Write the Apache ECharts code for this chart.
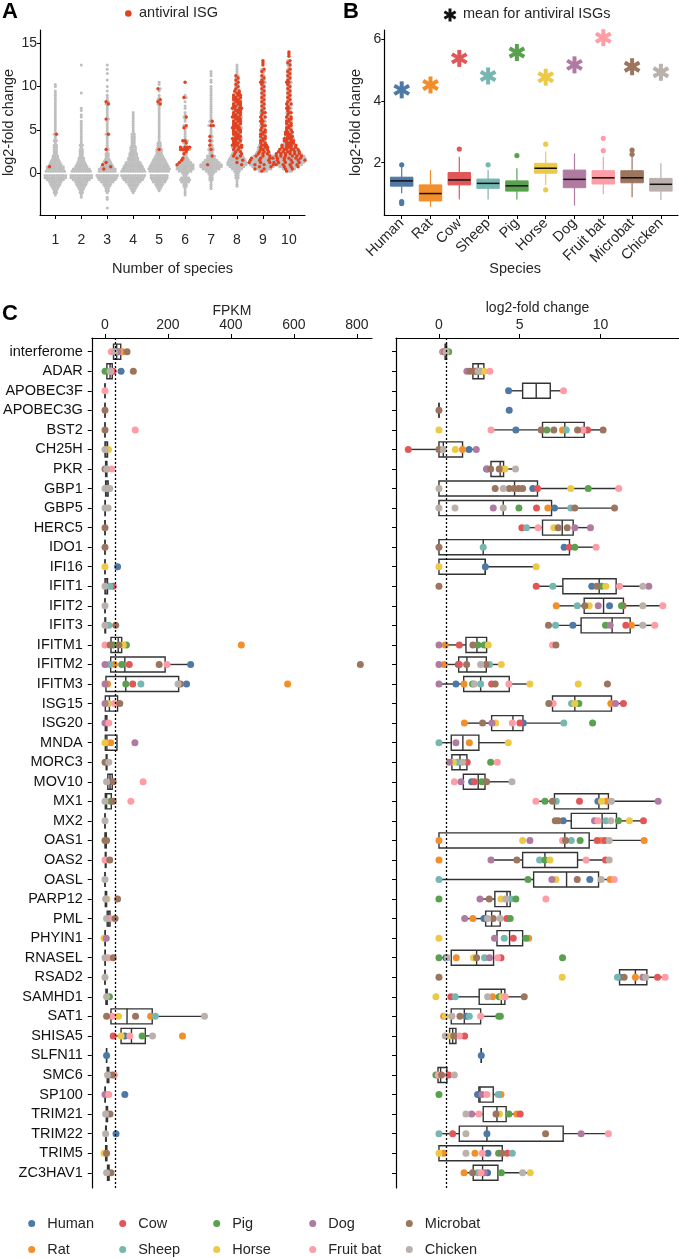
<!DOCTYPE html>
<html><head><meta charset="utf-8">
<script src="https://cdn.jsdelivr.net/npm/echarts@6/dist/echarts.min.js"></script>
<style>html,body{margin:0;padding:0;background:#fff}#c{width:679px;height:1258px}</style>
</head><body><div id="c"></div>
<script>
// ---------------- shared ----------------
const speciesNames = ['Human','Rat','Cow','Sheep','Pig','Horse','Dog','Fruit bat','Microbat','Chicken'];
const speciesColors = ['#4E79A7','#F28E2B','#E15759','#76B7B2','#59A14F','#EDC948','#B07AA1','#FF9DA7','#9C755F','#BAB0AC'];

// ---------------- panel A: dot counts per 0.25 log2FC row ----------------
const speciesCountTicks = [1,2,3,4,5,6,7,8,9,10];
const grayStart = [-2.5, -2.75, -4.0, -2.25, -2.0, -2.5, -1.75, -1.5, 0.25, 0.25];
const grayCounts = [
 [1,2,2,3,4,5,6,8,10,10, 0, 9,8,7,6,5,4,3,3,2,2,2,2,2,1,2,1, 1,1,1,1,1,1,1,1,1,1,1,1,1,1,1,1,1,1,1,1,1,1, 0,1,1],
 [1,1,2,2,3,4,5,6,8,10,10, 0, 9,8,6,5,4,3,3,2,2,2,2,1,2,1,1, 1,1,1,1,1,1,1,1,1,0,1,1,0,1,1,0, 0,0,0,0,0,1, 0,0,0,0,0,0,0,0,0,0,0,0, 1],
 [1,0,0,0,1,1,0,1,2,2,3,4,6,8,9,10, 0, 8,7,5,4,3,3,2,2,2,1,1,1, 1,1,1,1,1,1,1,1,1,1,1,1,1,1,1,1,1,1,1,1,1,1,1,1, 0,1,0,1,0,0,1,0,0,1,0,1,0,1],
 [1,2,3,4,5,7,9,10,11, 0, 11,10,9,8,7,5,5,4,4,3,3,3,2,2,2,2,2,2, 1,1,1,1,1,1,1,1,1,1],
 [1,2,3,4,6,7,8,8, 0, 9,10,9,8,7,6,5,4,3,3,2,2,2,2,1, 1,1,1,1,1,1,1,1,1,1,1,1,1,1,1,1,1,1,1,1,1,0,1,1,0,1,1],
 [1,1,1,1,2,2,4,5,4,2, 3,6,8,8,7,5,3,2,2,1,1, 1,1,1,1,1,1,1,1,1,1,1,1,0,1,1,1,1,1,0,1,1,0,1,0,1,1],
 [1,1,1,1,2,2,2,3, 5,8,10,9,8,6,4,3,2,2,2,2, 1,1,1,1,1,1,1,1,1,1,1,1,1,1,1,1,1,1,1,1,1,1,1,1,1,1,1,1,0,1,1,0,1,1,1],
 [1,1,1,1,2,2,2, 3,5,7,8,8,7,6,4,3,2,2,2, 1,1,1,1,1,1,1,1,1,1,1,1,1,1,1,1,1,1,1,1,1,1,1,1,1,1,1,1,1,1,1,1,1,1,1,1,1,1],
 [3,6,8,9,10,9,8,6,4,3,2,2, 1,1,1,1,1,1,1,1,1,1,1,1,1,1,1,1,1,1,1,1,1,1,1,1,1,1,1,1,1,1,1,1,1,1,1,1],
 [2,4,6,8,9,10,9,8,6,4,3,2,2, 1,1,1,1,1,1,1,1,1,1,1,1,1,1,1,1,1,1,1,1,1,1,1,1,1,1,1,1,1,1,1,1,1,1,1,1,1,1,1]
];
const antiviralSparse = [
 [4.4, 0.7], [], [8.2, 7.9, 6.3, 4.4, 2.8, 1.25, 0.9, 0.75, 0.6], [], [9.8, 8.5, 8.2, 7.9, 2.8],
 [10.5, 8.8, 6.5, 5.5, 5.2, 3.8, 3.7, 3.5, 3.0, 3.0, 3.0, 3.0, 2.7, 2.7, 2.7, 2.7, 2.5, 2.2, 1.8, 1.5, 1.3, 0.9],
 [6.1, 5.6, 5.4, 4.2, 3.7, 3.2, 2.7, 1.9, 1.1], [], [], []
];
const antiviralStart = [null, null, null, null, null, null, null, 1.0, 0.25, 0.25];
const antiviralCounts = [null, null, null, null, null, null, null,
 [1,1,1,1,2,2,2,2, 3,4,3,3,4,3,3,3,3,4,3,3,3,3,4,3,3,3,4,3,3,3,3,3, 3,2,2,1,1,1,1,1,1,1],
 [1,2,2,3,3,3,3,3,3,3,3,3,3, 2,2,2,2,2,2,2, 1,2,1,2,1,2,1,2, 1,1,1,1,1,1,1,1,1,1,1,1,1, 2,1,1,1,0,1,1,0,1,1,1],
 [1,2,3,4,5,5,6,6,6,6,6,5,5, 4,4,4,3,3,3,2, 2,2,2,2,2,2,1,2, 1,2,1,2,1,1,1,1,1,1,1,1,1, 2,1,1,1,1,1,1,0,1,1,1,0,1,1,1]
];

// ---------------- panel B ----------------
const bLow  = [1.01, 0.57, 0.81, 0.81, 0.81, 1.28, 0.61, 0.98, 0.88, 0.79];
const bQ1   = [1.24, 0.76, 1.28, 1.17, 1.08, 1.66, 1.19, 1.31, 1.35, 1.08];
const bMed  = [1.41, 1.00, 1.44, 1.33, 1.25, 1.82, 1.46, 1.51, 1.51, 1.30];
const bQ3   = [1.53, 1.28, 1.68, 1.47, 1.41, 1.98, 1.76, 1.74, 1.74, 1.49];
const bHigh = [1.86, 1.76, 2.19, 1.76, 1.82, 2.36, 2.30, 2.19, 2.20, 1.98];
const bOutliers = [[0,1.93],[0,0.74],[0,0.68],[2,2.44],[3,1.93],[4,2.23],[5,2.6],[5,1.12],[7,2.79],[7,2.39],[8,2.41],[8,2.27]];
const bMeans = [4.36, 4.52, 5.38, 4.81, 5.57, 4.77, 5.17, 6.05, 5.11, 4.93];

// ---------------- panel C ----------------
const genes = ['interferome','ADAR','APOBEC3F','APOBEC3G','BST2','CH25H','PKR','GBP1','GBP5','HERC5','IDO1','IFI16','IFIT1','IFIT2','IFIT3','IFITM1','IFITM2','IFITM3','ISG15','ISG20','MNDA','MORC3','MOV10','MX1','MX2','OAS1','OAS2','OASL','PARP12','PML','PHYIN1','RNASEL','RSAD2','SAMHD1','SAT1','SHISA5','SLFN11','SMC6','SP100','TRIM21','TRIM22','TRIM5','ZC3HAV1'];
const fpkmTicks = [0,200,400,600,800];
const fcTicks = [0,5,10];
const fpkmRef = 34;
const fcRef = 0.42;
// [species index, value]
const fpkmPoints = [
 [[7,20],[9,30],[2,30],[3,35],[0,38],[4,40],[6,42],[5,45],[1,55],[8,70]],
 [[4,0],[9,16],[7,18],[2,26],[0,51],[8,90]],
 [[7,0]], [[8,0]], [[8,0],[7,96]], [[9,0],[5,11]], [[8,0],[9,5],[7,21]],
 [[9,0],[9,8],[9,15]], [[9,0],[9,10]], [[8,0]], [[8,0]], [[5,0],[0,40]],
 [[9,0],[3,16],[2,26]], [[9,0]], [[9,0],[3,12],[8,34]],
 [[7,0],[8,16],[4,26],[8,44],[5,58],[4,68],[1,433]],
 [[6,0],[3,14],[1,30],[4,53],[2,77],[8,172],[7,197],[0,272],[8,811]],
 [[6,0],[1,8],[4,66],[2,88],[3,114],[9,232],[8,240],[0,259],[1,580]],
 [[6,0],[5,8],[3,10],[7,30],[8,47]], [[6,0],[7,12]], [[5,0],[1,18],[6,95]],
 [[8,0],[9,12]], [[9,5],[8,26],[7,121]], [[9,0],[4,18],[8,26],[7,82]], [[9,0]],
 [[8,0],[8,5]], [[7,0],[8,15]], [[9,0]], [[9,2],[5,6],[8,40]], [[9,5],[7,16],[8,32]],
 [[5,-3],[6,4]], [[9,0],[7,10],[8,26]], [[9,0]], [[9,5],[4,14]],
 [[8,5],[7,23],[5,43],[8,97],[1,145],[3,160],[9,316]],
 [[2,26],[5,51],[0,63],[7,79],[4,118],[9,151],[1,246]],
 [[0,5]], [[9,8],[8,23],[7,30]], [[6,0],[7,12],[0,63]], [[9,2],[7,8],[8,16]],
 [[9,2],[0,35]], [[5,-3],[8,5]], [[9,5],[8,19]]
];
// [low, q1, median, q3, high]
const fpkmBoxes = [
 [16,27,37,50,70],[0,6,16,23,26],[0,0,0,0,0],[0,0,0,0,0],[0,0,0,0,0],[0,0,3,8,11],[0,2,4,6,6],
 [0,2,6,10,15],[0,0,1,1,1],[0,0,0,0,0],[0,0,0,0,0],[0,0,0,0,0],[0,0,3,8,8],[0,0,0,0,0],[0,0,1,2,2],
 [0,19,42,53,68],[0,18,63,191,272],[0,3,66,234,259],[0,1,14,40,47],[0,1,3,6,12],[0,1,6,38,38],
 [3,4,5,6,6],[5,9,16,23,26],[0,1,5,20,26],[0,0,0,0,0],[0,0,2,4,5],[0,1,2,3,3],[0,0,0,0,0],
 [0,1,3,5,6],[5,7,12,16,16],[0,0,1,1,1],[0,0,1,1,1],[0,0,0,0,0],[3,3,5,7,7],[5,19,70,150,316],
 [26,51,84,128,151],[5,5,5,5,5],[6,7,9,12,12],[0,0,1,1,1],[3,4,6,8,8],[2,2,3,4,4],[2,2,4,6,6],[6,8,10,13,13]
];
const fcPoints = [
 [[6,0.23],[7,0.3],[8,0.35],[2,0.4],[1,0.42],[9,0.43],[3,0.44],[0,0.45],[5,0.45],[4,0.6]],
 [[6,1.73],[8,1.92],[2,2.2],[0,2.3],[4,2.4],[9,2.43],[3,2.5],[1,2.6],[5,2.8],[7,3.15]],
 [[0,4.31],[7,7.71]],
 [[8,0],[0,4.35]],
 [[5,0],[7,3.22],[0,4.76],[8,6.33],[4,6.68],[8,7.11],[1,7.65],[3,7.88],[8,8.58],[7,8.9],[6,8.93],[2,9.2],[8,10.16]],
 [[2,-1.9],[8,0],[9,0.27],[5,1.01],[1,1.46],[0,1.86],[6,2.31]],
 [[0,2.95],[6,3.0],[8,3.2],[8,3.73],[1,3.85],[5,4.08],[9,4.74]],
 [[9,0],[8,3.48],[9,3.98],[8,4.35],[8,4.66],[8,4.93],[8,5.18],[0,5.81],[2,6.1],[5,8.16],[4,9.24],[7,11.13]],
 [[9,0],[9,0.99],[6,3.36],[9,3.98],[4,4.95],[2,6.04],[1,6.74],[0,7.15],[3,8.16],[8,8.41],[8,10.87]],
 [[2,5.13],[3,5.42],[7,6.14],[5,7.11],[8,7.38],[8,7.94],[6,8.41],[6,9.38]],
 [[8,0],[3,2.74],[0,7.75],[2,8.08],[4,8.41],[7,9.73]],
 [[5,0],[0,2.87],[5,6.02]],
 [[8,0],[2,6.02],[3,7.05],[0,9.46],[8,9.77],[4,10.06],[5,10.33],[7,11.18],[9,12.62],[6,12.99]],
 [[1,7.26],[3,8.56],[8,9.03],[5,9.3],[6,9.86],[0,10.56],[4,11.3],[2,11.4],[9,12.62],[7,13.86]],
 [[8,6.78],[3,7.22],[0,8.29],[4,10.31],[6,10.6],[2,11.57],[1,11.92],[9,12.62],[7,13.36]],
 [[6,0],[1,0.39],[2,1.26],[8,2.1],[4,2.41],[4,2.8],[5,3.05],[7,7.03],[8,7.24]],
 [[6,0],[1,0.33],[0,1.2],[2,1.26],[8,1.71],[9,2.58],[8,2.91],[3,3.13],[5,3.86]],
 [[6,0],[0,1.05],[1,1.55],[4,2.08],[9,2.19],[3,2.58],[2,3.26],[8,3.48],[7,4.33],[5,5.63],[5,8.62],[8,10.43]],
 [[8,6.8],[7,7.07],[3,8.21],[5,8.41],[4,8.66],[1,10.64],[6,10.93],[2,11.42]],
 [[1,1.57],[8,2.7],[6,3.28],[5,3.51],[7,4.54],[2,5.01],[0,5.22],[3,7.73],[4,9.51]],
 [[3,0],[6,1.05],[1,1.88],[5,4.29]],
 [[6,0.64],[5,0.89],[3,1.15],[9,1.46],[2,1.75],[4,3.2],[7,3.61]],
 [[7,0.95],[6,1.36],[0,2.02],[2,2.19],[4,2.66],[8,2.95],[9,4.52]],
 [[7,6.0],[4,6.56],[8,7.03],[3,7.26],[2,8.7],[0,9.84],[5,10.06],[1,10.37],[9,10.68],[6,13.57]],
 [[8,7.2],[8,7.38],[0,7.69],[6,9.63],[7,9.84],[3,10.33],[9,10.64],[4,11.11],[5,11.79],[2,12.66]],
 [[1,0],[5,5.18],[6,5.63],[7,7.65],[8,7.84],[3,8.19],[4,8.74],[2,9.79],[1,10.04],[2,10.27],[9,10.54],[1,12.7]],
 [[1,0],[6,3.22],[8,4.82],[3,6.23],[4,6.56],[5,6.87],[7,9.11],[2,10.31],[9,10.54]],
 [[3,0],[4,5.51],[6,6.99],[5,7.24],[8,8.56],[0,9.34],[9,10.04],[1,10.6],[7,10.85]],
 [[4,0],[6,2.54],[8,3.11],[5,3.84],[9,4.14],[3,4.45],[4,4.76],[7,6.62]],
 [[6,1.59],[1,2.1],[0,2.78],[9,3.01],[8,3.36],[9,3.79],[2,4.2],[4,4.41]],
 [[5,0],[6,3.44],[3,4.04],[2,4.6],[4,5.38],[1,5.55]],
 [[4,0],[0,0.43],[9,0.53],[1,1.07],[5,2.14],[8,2.33],[3,2.82],[6,3.13],[7,3.63],[2,3.84],[4,7.65]],
 [[8,0],[5,7.63],[3,11.05],[0,11.2],[8,11.46],[1,12.16],[6,12.62],[9,12.8],[2,13.53],[7,14.0]],
 [[5,-0.19],[2,0.74],[3,1.01],[9,3.01],[1,3.32],[4,3.73],[5,3.9],[7,4.1],[8,5.28]],
 [[1,0.29],[5,0.4],[9,0.8],[8,1.3],[0,1.71],[3,1.88],[7,2.58],[4,3.7],[4,3.8]],
 [[9,0.39],[5,0.74],[8,0.91],[7,1.26],[2,1.59]],
 [[0,2.62]],
 [[4,-0.19],[7,-0.04],[8,0.16],[2,0.6],[9,0.95]],
 [[4,0],[0,2.39],[6,2.66],[7,2.97],[3,3.67],[1,3.84]],
 [[9,1.67],[6,2.02],[7,2.47],[8,3.53],[5,3.75],[4,4.33],[1,4.82],[2,5.03]],
 [[3,0],[2,0.85],[9,1.67],[0,2.97],[8,6.6],[6,8.8],[7,10.49]],
 [[5,0],[1,0.29],[9,1.67],[1,2.23],[7,2.68],[0,3.03],[4,3.69],[8,3.9],[2,4.23],[3,4.54]],
 [[1,1.55],[8,2.08],[3,2.39],[7,2.6],[6,2.8],[0,3.01],[4,3.86],[9,5.18],[5,5.65]]
];
const fcBoxes = [
 [0.23,0.38,0.43,0.47,0.6],[1.73,2.1,2.43,2.78,3.15],[4.31,5.18,6.02,6.89,7.71],[0,0,0,0,0],
 [3.22,6.41,7.79,8.99,10.16],[-1.9,0,0.27,1.46,2.31],[2.95,3.22,3.79,4.0,4.74],[0,0,4.68,6.1,11.13],
 [0,0,3.98,6.97,10.87],[5.13,6.41,7.63,8.31,9.38],[0,0,2.74,8.08,9.73],[0,0,2.87,2.87,6.02],
 [6.02,7.67,9.92,10.97,12.99],[7.26,8.99,10.19,11.42,13.86],[6.78,8.8,10.72,11.84,13.36],
 [0,1.67,2.35,2.95,3.05],[0,1.22,1.73,2.93,3.86],[0,1.53,2.58,4.35,5.63],[6.8,7.03,8.41,10.68,11.42],
 [1.57,3.26,4.58,5.2,7.73],[0,0.76,1.48,2.47,4.29],[0.64,0.8,1.3,1.73,1.75],[0.95,1.51,2.43,2.85,4.52],
 [6.0,7.15,9.9,10.49,13.57],[7.2,8.19,10.1,10.99,12.66],[0,0,7.79,9.3,12.7],[3.22,5.18,6.56,8.58,10.54],
 [0,5.86,7.9,9.88,10.85],[2.54,3.46,4.21,4.41,4.76],[1.59,2.89,3.26,3.79,4.41],[3.44,3.59,4.37,5.18,5.55],
 [0,0.76,2.33,3.38,3.84],[11.05,11.18,12.16,12.87,14.0],[0.74,2.49,3.86,4.08,5.28],[0.29,0.76,1.57,2.58,3.8],
 [0.39,0.66,0.85,1.05,1.59],[2.62,2.62,2.62,2.62,2.62],[-0.19,-0.06,0.1,0.49,0.95],[2.39,2.47,2.54,3.36,3.84],
 [1.67,2.74,3.59,4.16,5.03],[0,1.26,2.97,7.69,10.49],[0,0,2.7,3.92,4.54],[1.55,2.12,2.7,3.65,5.65]
];

// ---------------- build ----------------
const FONT = 'Liberation Sans, Arial, Helvetica, sans-serif';
const TXT = '#262626';

function buildSwarmRows() {
  const rows = {};
  function add(k, v, g, r) {
    const key = k + '|' + v.toFixed(2);
    if (!rows[key]) rows[key] = {k: k, v: v, g: 0, r: 0};
    rows[key].g += g; rows[key].r += r;
  }
  grayCounts.forEach((arr, ci) => arr.forEach((n, i) => { if (n > 0) add(speciesCountTicks[ci], grayStart[ci] + i * 0.25, n, 0); }));
  antiviralCounts.forEach((arr, ci) => { if (arr) arr.forEach((n, i) => { if (n > 0) add(speciesCountTicks[ci], antiviralStart[ci] + i * 0.25, 0, n); }); });
  antiviralSparse.forEach((arr, ci) => arr.forEach(v => add(speciesCountTicks[ci], Math.round(v * 4) / 4, 0, 1)));
  return Object.values(rows).map(o => [o.k, o.v, o.g, o.r]);
}
const swarmRows = buildSwarmRows();

function swarmRender(drawRed) {
  return function (params, api) {
    const c = api.coord([api.value(0), api.value(1)]);
    const g = api.value(2), r = api.value(3), n = g + r;
    const rowIdx = Math.round(api.value(1) * 4) + 40;
    const shift = (rowIdx * 7) % Math.max(n, 1);
    const redPos = new Set();
    for (let j = 0; j < r; j++) redPos.add((Math.floor((j + 0.5) * n / r) + (g > 0 ? shift : 0)) % n);
    const step = 2.3, children = [];
    for (let i = 0; i < n; i++) {
      const isRed = redPos.has(i);
      if (isRed !== drawRed) continue;
      children.push({type: 'circle', shape: {cx: c[0] + (i - (n - 1) / 2) * step, cy: c[1], r: drawRed ? 1.7 : 1.5},
        style: {fill: drawRed ? '#E2411F' : '#BEBEBE'}});
    }
    return {type: 'group', children: children};
  };
}

function bBoxRender(params, api) {
  const i = api.value(0);
  const col = speciesColors[i];
  const x = api.coord([i, 0])[0];
  const w = api.size([0.78, 0])[0];
  const yl = api.coord([i, api.value(1)])[1], y1 = api.coord([i, api.value(2)])[1],
        ym = api.coord([i, api.value(3)])[1], y3 = api.coord([i, api.value(4)])[1],
        yh = api.coord([i, api.value(5)])[1];
  return {type: 'group', children: [
    {type: 'line', shape: {x1: x, y1: yh, x2: x, y2: y3}, style: {stroke: col, lineWidth: 1.2}},
    {type: 'line', shape: {x1: x, y1: y1, x2: x, y2: yl}, style: {stroke: col, lineWidth: 1.2}},
    {type: 'rect', shape: {x: x - w / 2, y: y3, width: w, height: y1 - y3}, style: {fill: col, stroke: col, lineWidth: 1}},
    {type: 'line', shape: {x1: x - w / 2, y1: ym, x2: x + w / 2, y2: ym}, style: {stroke: '#111', lineWidth: 1.5}}
  ]};
}

function asteriskChildren(cx, cy, len, lw, col) {
  const ch = [];
  for (let a = 0; a < 6; a++) {
    const ang = -Math.PI / 2 + a * Math.PI / 3;
    ch.push({type: 'line', shape: {x1: cx, y1: cy, x2: cx + len * Math.cos(ang), y2: cy + len * Math.sin(ang)},
      style: {stroke: col, lineWidth: lw, lineCap: 'butt'}});
  }
  return ch;
}

function meanRender(params, api) {
  const i = api.value(0);
  const c = api.coord([i, api.value(1)]);
  return {type: 'group', children: asteriskChildren(c[0], c[1], 8.5, 4, speciesColors[i])};
}

function outlierRender(params, api) {
  const i = api.value(0);
  const c = api.coord([i, api.value(1)]);
  return {type: 'circle', shape: {cx: c[0], cy: c[1], r: 2.6}, style: {fill: speciesColors[i]}};
}

function cBoxRender(params, api) {
  const g = api.value(0);
  const lo = api.coord([api.value(1), g]), q1 = api.coord([api.value(2), g]), md = api.coord([api.value(3), g]),
        q3 = api.coord([api.value(4), g]), hi = api.coord([api.value(5), g]);
  const h = api.size([0, 0.77])[1];
  const y = lo[1];
  const st = {stroke: '#333', lineWidth: 1.4, fill: 'none'};
  return {type: 'group', children: [
    {type: 'line', shape: {x1: lo[0], y1: y, x2: q1[0], y2: y}, style: st},
    {type: 'line', shape: {x1: q3[0], y1: y, x2: hi[0], y2: y}, style: st},
    {type: 'rect', shape: {x: q1[0], y: y - h / 2, width: q3[0] - q1[0], height: h}, style: st},
    {type: 'line', shape: {x1: md[0], y1: y - h / 2, x2: md[0], y2: y + h / 2}, style: st}
  ]};
}

const axisLine = {show: true, onZero: false, lineStyle: {color: '#000', width: 1.2}};
function tickStyle(vals, len) { return {show: true, length: len, customValues: vals, lineStyle: {color: '#000', width: 1}}; }
const geneIdx = genes.map((g, i) => i);

const series = [];
// Panel A
series.push({type: 'custom', xAxisIndex: 0, yAxisIndex: 0, data: swarmRows, renderItem: swarmRender(false), encode: {x: 0, y: 1}, z: 2});
series.push({type: 'custom', xAxisIndex: 0, yAxisIndex: 0, data: swarmRows, renderItem: swarmRender(true), encode: {x: 0, y: 1}, z: 3});
// Panel B
series.push({type: 'custom', xAxisIndex: 1, yAxisIndex: 1, renderItem: bBoxRender, encode: {x: 0, y: [1, 2, 3, 4, 5]},
  data: speciesNames.map((s, i) => [i, bLow[i], bQ1[i], bMed[i], bQ3[i], bHigh[i]])});
series.push({type: 'custom', xAxisIndex: 1, yAxisIndex: 1, renderItem: outlierRender, encode: {x: 0, y: 1}, data: bOutliers});
series.push({type: 'custom', xAxisIndex: 1, yAxisIndex: 1, renderItem: meanRender, encode: {x: 0, y: 1},
  data: bMeans.map((m, i) => [i, m])});
// Panel C boxes
series.push({type: 'custom', xAxisIndex: 2, yAxisIndex: 2, renderItem: cBoxRender, encode: {y: 0, x: [1, 2, 3, 4, 5]},
  data: fpkmBoxes.map((b, i) => [i].concat(b)), z: 2});
series.push({type: 'custom', xAxisIndex: 3, yAxisIndex: 3, renderItem: cBoxRender, encode: {y: 0, x: [1, 2, 3, 4, 5]},
  data: fcBoxes.map((b, i) => [i].concat(b)), z: 2});
// Panel C points
[[fpkmPoints, 2, fpkmRef], [fcPoints, 3, fcRef]].forEach(([pts, ax, ref]) => {
  speciesNames.forEach((name, s) => {
    const data = [];
    pts.forEach((list, gi) => list.forEach(p => { if (p[0] === s) data.push([p[1], gi]); }));
    const ser = {type: 'scatter', name: name, xAxisIndex: ax, yAxisIndex: ax, data: data, symbol: 'circle', symbolSize: 7,
      itemStyle: {color: speciesColors[s], opacity: 1}, z: 3, emphasis: {disabled: true}};
    if (s === 0) ser.markLine = {silent: true, symbol: 'none', label: {show: false}, animation: false,
      lineStyle: {color: '#000', type: [2, 2], width: 1.3}, data: [{xAxis: ref}]};
    series.push(ser);
  });
});

const legendCols = [[0, 1, 28.2], [2, 3, 119.2], [4, 5, 213.2], [6, 7, 309.2], [8, 9, 405.8]];
const legends = legendCols.map(c => ({
  orient: 'vertical', left: c[2], top: 1216, padding: 0, height: 44, icon: 'circle', itemWidth: 21, itemHeight: 7, itemGap: 11,
  data: [speciesNames[c[0]], speciesNames[c[1]]], textStyle: {fontSize: 14.5, color: TXT, fontFamily: FONT}
}));

const option = {
  animation: false,
  textStyle: {fontFamily: FONT},
  legend: legends,
  grid: [
    {left: 38, top: 30, width: 267, height: 185},
    {left: 384.3, top: 30, width: 293.7, height: 185},
    {left: 90, top: 338, width: 282, height: 850},
    {left: 396, top: 338, width: 283, height: 850}
  ],
  xAxis: [
    {type: 'value', gridIndex: 0, min: 0.41, max: 10.62, splitLine: {show: false}, axisLine: axisLine,
     axisTick: tickStyle(speciesCountTicks, 4), axisLabel: {customValues: speciesCountTicks, fontSize: 14, color: TXT, margin: 18},
     name: 'Number of species', nameLocation: 'middle', nameGap: 46, nameTextStyle: {fontSize: 14.5, color: TXT}},
    {type: 'value', gridIndex: 1, min: -0.604, max: 9.594, splitLine: {show: false}, axisLine: axisLine,
     axisTick: tickStyle([0,1,2,3,4,5,6,7,8,9], 4),
     axisLabel: {customValues: [0,1,2,3,4,5,6,7,8,9], formatter: v => speciesNames[Math.round(v)], rotate: 45, fontSize: 14.5, color: TXT, margin: 6},
     name: 'Species', nameLocation: 'middle', nameGap: 46, nameMoveOverlap: false,
     nameTextStyle: {fontSize: 14.5, color: TXT, padding: [0, 32, 0, 0]}},
    {type: 'value', gridIndex: 2, position: 'top', min: -42, max: 848, splitLine: {show: false}, axisLine: axisLine,
     axisTick: tickStyle(fpkmTicks, 4), axisLabel: {customValues: fpkmTicks, fontSize: 14, color: TXT, margin: 6},
     name: 'FPKM', nameLocation: 'middle', nameGap: 20, nameMoveOverlap: false, nameTextStyle: {fontSize: 14, color: TXT}},
    {type: 'value', gridIndex: 3, position: 'top', min: -2.66, max: 14.86, splitLine: {show: false}, axisLine: axisLine,
     axisTick: tickStyle(fcTicks, 4), axisLabel: {customValues: fcTicks, fontSize: 14, color: TXT, margin: 6},
     name: 'log2-fold change', nameLocation: 'middle', nameGap: 23, nameMoveOverlap: false, nameTextStyle: {fontSize: 14, color: TXT}}
  ],
  yAxis: [
    {type: 'value', gridIndex: 0, min: -4.81, max: 16.53, splitLine: {show: false}, axisLine: axisLine,
     axisTick: tickStyle([0,5,10,15], 3), axisLabel: {customValues: [0,5,10,15], fontSize: 14, color: TXT, margin: 3},
     name: 'log2-fold change', nameLocation: 'middle', nameGap: 24, nameMoveOverlap: false, nameTextStyle: {fontSize: 14.5, color: TXT}},
    {type: 'value', gridIndex: 1, min: 0.305, max: 6.30, splitLine: {show: false}, axisLine: axisLine,
     axisTick: tickStyle([2,4,6], 3), axisLabel: {customValues: [2,4,6], fontSize: 14, color: TXT, margin: 3},
     name: 'log2-fold change', nameLocation: 'middle', nameGap: 21, nameMoveOverlap: false, nameTextStyle: {fontSize: 14.5, color: TXT}},
    {type: 'value', gridIndex: 2, inverse: true, min: -0.70, max: 42.78, splitLine: {show: false}, axisLine: axisLine,
     axisTick: tickStyle(geneIdx, 4),
     axisLabel: {customValues: geneIdx, formatter: v => genes[Math.round(v)], fontSize: 14.5, color: '#111', margin: 9}},
    {type: 'value', gridIndex: 3, inverse: true, min: -0.70, max: 42.78, splitLine: {show: false}, axisLine: axisLine,
     axisTick: tickStyle(geneIdx, 4), axisLabel: {show: false}}
  ],
  graphic: [
    {type: 'text', left: 2, top: 1, style: {text: 'A', fill: '#000', font: 'bold 22px ' + FONT}},
    {type: 'text', left: 343, top: 1, style: {text: 'B', fill: '#000', font: 'bold 22px ' + FONT}},
    {type: 'text', left: 2, top: 303, style: {text: 'C', fill: '#000', font: 'bold 22px ' + FONT}},
    {type: 'circle', shape: {cx: 128.3, cy: 13.5, r: 3.3}, style: {fill: '#E2411F'}},
    {type: 'text', left: 139, top: 5, style: {text: 'antiviral ISG', font: '14.5px ' + FONT, fill: TXT}},
    {type: 'group', children: asteriskChildren(450, 15, 6.5, 3, '#111')},
    {type: 'text', left: 463, top: 6, style: {text: 'mean for antiviral ISGs', font: '14.5px ' + FONT, fill: TXT}}
  ],
  series: series
};

const chart = echarts.init(document.getElementById('c'));
chart.setOption(option);
</script></body></html>
